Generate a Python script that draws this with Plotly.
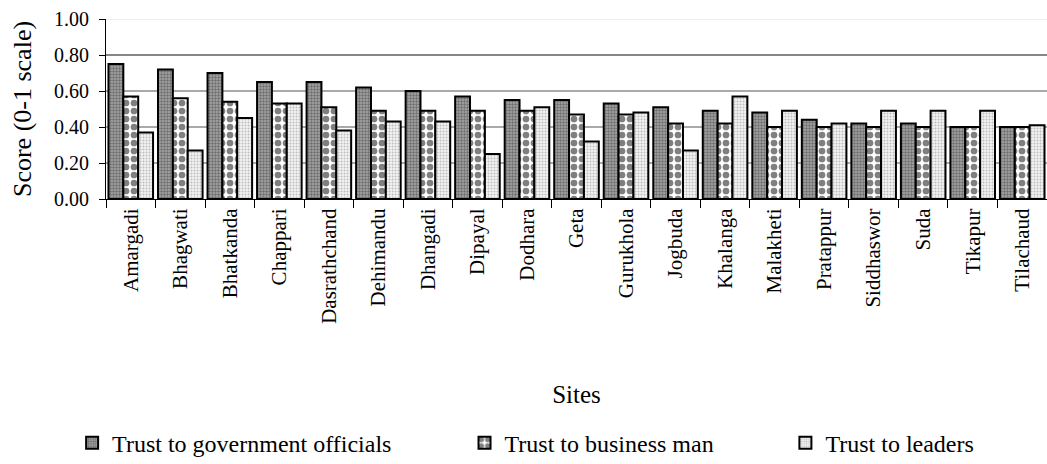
import plotly.graph_objects as go

sites = ["Amargadi", "Bhagwati", "Bhatkanda", "Chappari", "Dasrathchand", "Dehimandu",
         "Dhangadi", "Dipayal", "Dodhara", "Geta", "Gurukhola", "Jogbuda", "Khalanga",
         "Malakheti", "Pratappur", "Siddhaswor", "Suda", "Tikapur", "Tilachaud"]
gov_officials = [0.75, 0.72, 0.70, 0.65, 0.65, 0.62, 0.60, 0.57, 0.55, 0.55, 0.53, 0.51,
                 0.49, 0.48, 0.44, 0.42, 0.42, 0.40, 0.40]
business_man = [0.57, 0.56, 0.54, 0.53, 0.51, 0.49, 0.49, 0.49, 0.49, 0.47, 0.47, 0.42,
                0.42, 0.40, 0.40, 0.40, 0.40, 0.40, 0.40]
leaders = [0.37, 0.27, 0.45, 0.53, 0.38, 0.43, 0.43, 0.25, 0.51, 0.32, 0.48, 0.27,
           0.57, 0.49, 0.42, 0.49, 0.49, 0.49, 0.41]
y_ticks = [0.0, 0.2, 0.4, 0.6, 0.8, 1.0]
grid_colors = ["#000000", "#555555", "#555555", "#555555", "#111111", "#dddddd"]

FONT = "Liberation Serif, Times New Roman, serif"
legend_font = dict(family=FONT, size=24, color="black")

fig = go.Figure()
fig.add_trace(go.Bar(
    x=sites, y=gov_officials, name="Trust to government officials", legend="legend",
    marker=dict(color="#8a8a8a", line=dict(color="black", width=2),
                pattern=dict(shape=".", fgcolor="#333333", bgcolor="#a8a8a8",
                             size=3, solidity=0.5)),
))
fig.add_trace(go.Bar(
    x=sites, y=business_man, name="Trust to business man", legend="legend2",
    marker=dict(color="white", line=dict(color="black", width=2),
                pattern=dict(shape=".", fgcolor="black", bgcolor="white",
                             size=8, solidity=0.55)),
))
fig.add_trace(go.Bar(
    x=sites, y=leaders, name="Trust to leaders", legend="legend3",
    marker=dict(color="#dddddd", line=dict(color="black", width=2),
                pattern=dict(shape=".", fgcolor="#888888", bgcolor="#f2f2f2",
                             size=3, solidity=0.35)),
))

# horizontal reference lines at each tick level, drawn beneath the bars
for level, col in zip(y_ticks[1:], grid_colors[1:]):
    fig.add_shape(type="line", xref="paper", x0=0, x1=1, yref="y", y0=level, y1=level,
                  line=dict(color=col, width=1.2), layer="below")

legend_common = dict(orientation="h", yref="container", y=0.045, yanchor="middle",
                     xanchor="left", font=legend_font, bgcolor="rgba(0,0,0,0)")

fig.update_layout(
    width=1047, height=464,
    margin=dict(l=106, r=0, t=19, b=265),
    paper_bgcolor="white", plot_bgcolor="white",
    barmode="group", bargap=0.1, bargroupgap=0,
    font=dict(family=FONT, size=21, color="black"),
    showlegend=True,
    legend=dict(x=-0.036, **legend_common),
    legend2=dict(x=0.381, **legend_common),
    legend3=dict(x=0.722, **legend_common),
    xaxis=dict(
        title=dict(text="Sites", font=dict(family=FONT, size=25), standoff=62),
        tickangle=-90, tickfont=dict(family=FONT, size=21),
        showline=True, linecolor="black", linewidth=1,
        ticks="outside", tickson="boundaries", ticklen=8, tickcolor="black",
        showgrid=False,
    ),
    yaxis=dict(
        title=dict(text="Score (0-1 scale)", font=dict(family=FONT, size=26), standoff=14),
        range=[0, 1.0], tickvals=y_ticks, tickformat=".2f",
        tickfont=dict(family=FONT, size=20), ticklabelstandoff=6,
        showline=True, linecolor="black", linewidth=1,
        ticks="outside", ticklen=6, tickcolor="black",
        showgrid=False, zeroline=False,
    ),
)

fig.write_html("out.html")
